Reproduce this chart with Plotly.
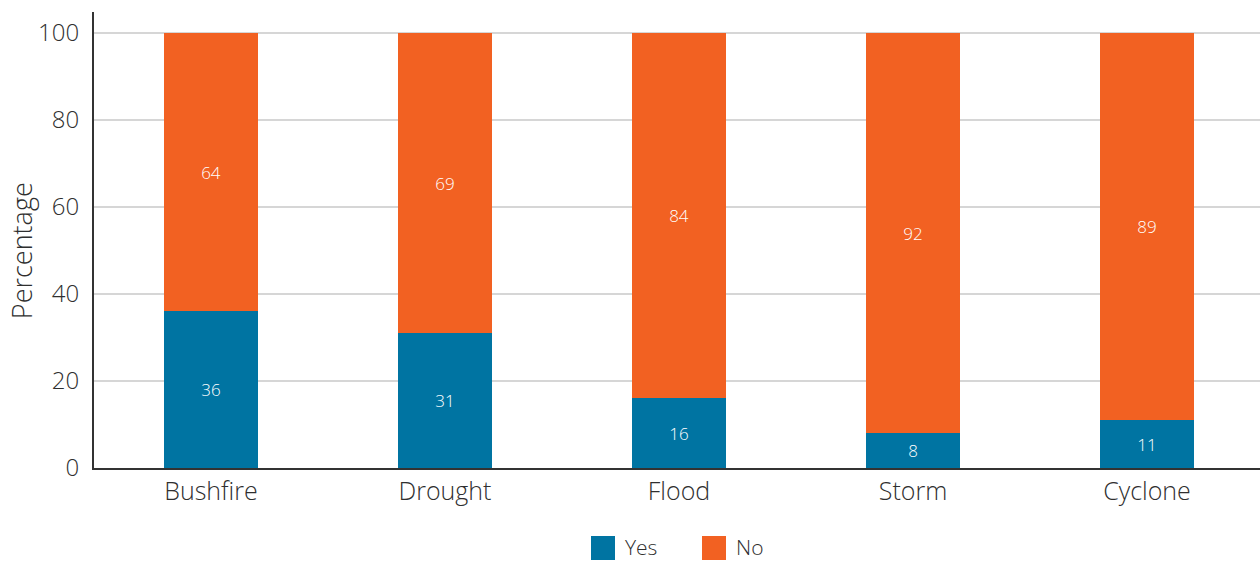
import plotly.graph_objects as go

# Hazard categories and survey responses (percent)
categories = ["Bushfire", "Drought", "Flood", "Storm", "Cyclone"]
series_names = ["Yes", "No"]
yes_values = [36, 31, 16, 8, 11]
no_values = [64, 69, 84, 92, 89]
y_ticks = [0, 20, 40, 60, 80, 100]

BLUE = "#0074a2"
ORANGE = "#f26122"
COLORS = [BLUE, ORANGE]
FONT = "Open Sans"
W = 300
TEXT = "#2f2f2f"

fig = go.Figure()
for name, vals, col in zip(series_names, [yes_values, no_values], COLORS):
    fig.add_trace(go.Bar(
        x=categories, y=vals, name=name, marker_color=col,
        marker_line_width=0, width=0.4,
        text=vals, textposition="inside", insidetextanchor="middle",
        textfont=dict(color="white", size=17, family=FONT, weight=W),
        showlegend=False,
    ))

fig.update_layout(
    barmode="stack",
    width=1260, height=561,
    margin=dict(l=94, r=0, t=12, b=93, autoexpand=False),
    paper_bgcolor="white", plot_bgcolor="white",
    font=dict(family=FONT, color=TEXT, weight=W),
    uniformtext=dict(mode="show", minsize=10),
)

fig.update_xaxes(
    range=[-0.5, 4.483],
    showline=True, linecolor="#333333", linewidth=2,
    showgrid=False, ticks="",
    tickfont=dict(size=25, color=TEXT, family=FONT, weight=W),
    automargin=False,
)
fig.update_yaxes(
    range=[0, 104.8],
    tickvals=y_ticks,
    showline=True, linecolor="#333333", linewidth=2,
    showgrid=True, gridcolor="#d6d6d6", gridwidth=1.5,
    zeroline=False, ticks="",
    tickfont=dict(size=24, color=TEXT, family=FONT, weight=W),
    ticklabelstandoff=8,
    automargin=False,
)

fig.add_annotation(
    text="Percentage", textangle=-90,
    xref="paper", x=-0.062, xanchor="center",
    yref="y", y=50, yanchor="middle",
    showarrow=False,
    font=dict(size=27, color=TEXT, family=FONT, weight=W),
)

# Legend drawn as large square swatches with labels below the plot
PLOT_W = 1260 - 94
legend_left_px = [591, 702]
for name, col, left in zip(series_names, COLORS, legend_left_px):
    x0 = (left - 94) / PLOT_W
    x1 = (left + 24 - 94) / PLOT_W
    fig.add_shape(
        type="rect", xref="paper", yref="paper",
        x0=x0, x1=x1, y0=(468 - 560) / 456, y1=(468 - 536) / 456,
        fillcolor=col, line_width=0,
    )
    fig.add_annotation(
        text=name, xref="paper", yref="paper",
        x=(left + 32 - 94) / PLOT_W, xanchor="left",
        y=(468 - 547) / 456, yanchor="middle",
        showarrow=False,
        font=dict(size=21, color=TEXT, family=FONT, weight=W),
    )

fig.write_html("out.html")
